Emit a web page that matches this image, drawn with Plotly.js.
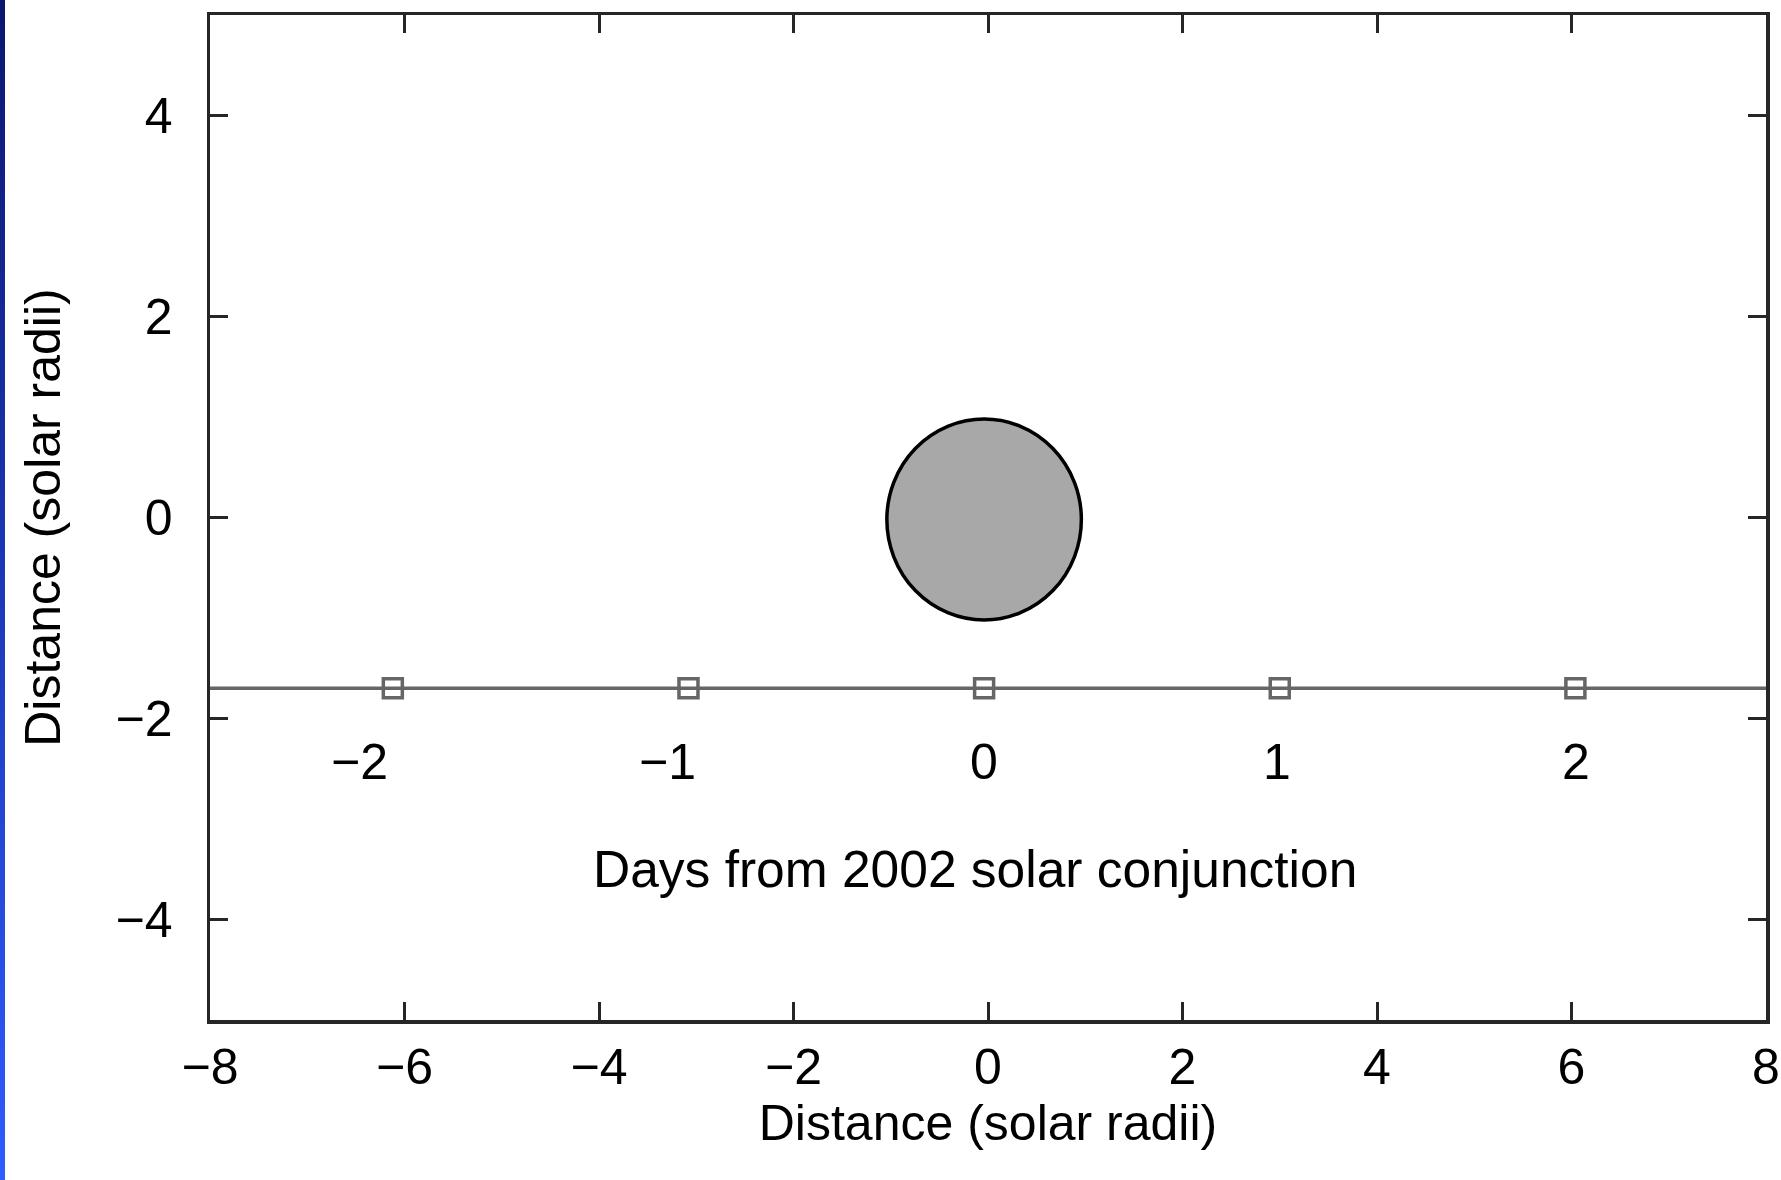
<!DOCTYPE html>
<html>
<head>
<meta charset="utf-8">
<script src="https://cdn.plot.ly/plotly-3.0.1.min.js"></script>
<style>
  html, body { margin: 0; padding: 0; background: #ffffff; }
  #wrap { position: relative; width: 1781px; height: 1180px; }
  #strip { position: absolute; left: 0; top: 0; width: 5px; height: 1180px;
           background: linear-gradient(to bottom, #0b1670, #2f5cff); z-index: 5; }
  #chart { position: absolute; left: 0; top: 0; width: 1781px; height: 1180px; }
</style>
</head>
<body>
<div id="wrap">
  <div id="strip"></div>
  <div id="chart"></div>
</div>
<script>
// Track positions (solar radii) of the observations, one per day
const trackX = [-6.12, -3.08, -0.04, 3.0, 6.04];
const trackY = [-1.70, -1.70, -1.70, -1.70, -1.70];
// Line of sight path across the whole frame
const pathX = [-8, 8];
const pathY = [-1.70, -1.70];
// Day labels and where they are written
const dayLabels = ['\u22122', '\u22121', '0', '1', '2'];
const dayLabelX = [-6.46, -3.30, -0.04, 2.97, 6.05];
const dayLabelY = -2.43;
const dayCaption = 'Days from 2002 solar conjunction';
const dayCaptionPos = [-0.13, -3.50];
// The Sun (radius 1 solar radius)
const sunCenter = [-0.04, -0.02];
const sunRadius = 1;
// Axes
const xRange = [-8, 8];
const yRange = [-5, 5];
const xTicks = [-8, -6, -4, -2, 0, 2, 4, 6, 8];
const yTicks = [-4, -2, 0, 2, 4];
const axisTitle = 'Distance (solar radii)';

const FONT = 'Liberation Sans, Arial, Helvetica, sans-serif';
const LINE = '#262626';
const GRAY = '#666666';

const traces = [
  {
    x: pathX, y: pathY, mode: 'lines', type: 'scatter',
    line: { color: GRAY, width: 3.5 }, hoverinfo: 'skip', showlegend: false
  },
  {
    x: trackX, y: trackY, mode: 'markers', type: 'scatter',
    marker: { symbol: 'square-open', size: 19, color: GRAY, line: { color: GRAY, width: 3.5 } },
    showlegend: false
  }
];

const annotations = dayLabels.map((t, i) => ({
  x: dayLabelX[i], y: dayLabelY, xref: 'x', yref: 'y', text: t, showarrow: false,
  xanchor: 'center', yanchor: 'middle', font: { family: FONT, size: 50, color: '#000' }
}));
annotations.push({
  x: dayCaptionPos[0], y: dayCaptionPos[1], xref: 'x', yref: 'y', text: dayCaption,
  showarrow: false, xanchor: 'center', yanchor: 'middle',
  font: { family: FONT, size: 51.5, color: '#000' }
});

const axisCommon = {
  showgrid: false, zeroline: false,
  showline: true, linecolor: LINE, linewidth: 3.5, mirror: 'ticks',
  ticks: 'inside', ticklen: 18, tickwidth: 3, tickcolor: LINE,
  tickfont: { family: FONT, size: 50, color: '#000' },
  tickmode: 'array', fixedrange: true
};

const layout = {
  width: 1781, height: 1180,
  margin: { l: 210, r: 15, t: 15, b: 160 },
  paper_bgcolor: '#ffffff', plot_bgcolor: '#ffffff',
  font: { family: FONT, color: '#000' },
  xaxis: Object.assign({}, axisCommon, {
    range: xRange, tickvals: xTicks, ticklabelstandoff: 0,
    title: { text: axisTitle, font: { family: FONT, size: 50, color: '#000' }, standoff: 5 }
  }),
  yaxis: Object.assign({}, axisCommon, {
    range: yRange, tickvals: yTicks, ticklabelstandoff: 24,
    title: { text: axisTitle, font: { family: FONT, size: 50, color: '#000' }, standoff: 40 }
  }),
  shapes: [{
    type: 'circle', xref: 'x', yref: 'y',
    x0: sunCenter[0] - sunRadius, x1: sunCenter[0] + sunRadius,
    y0: sunCenter[1] - sunRadius, y1: sunCenter[1] + sunRadius,
    fillcolor: '#a8a8a8', line: { color: '#000', width: 3.5 }, layer: 'below'
  }],
  annotations: annotations
};

Plotly.newPlot('chart', traces, layout, { displayModeBar: false, staticPlot: true });
</script>
</body>
</html>
